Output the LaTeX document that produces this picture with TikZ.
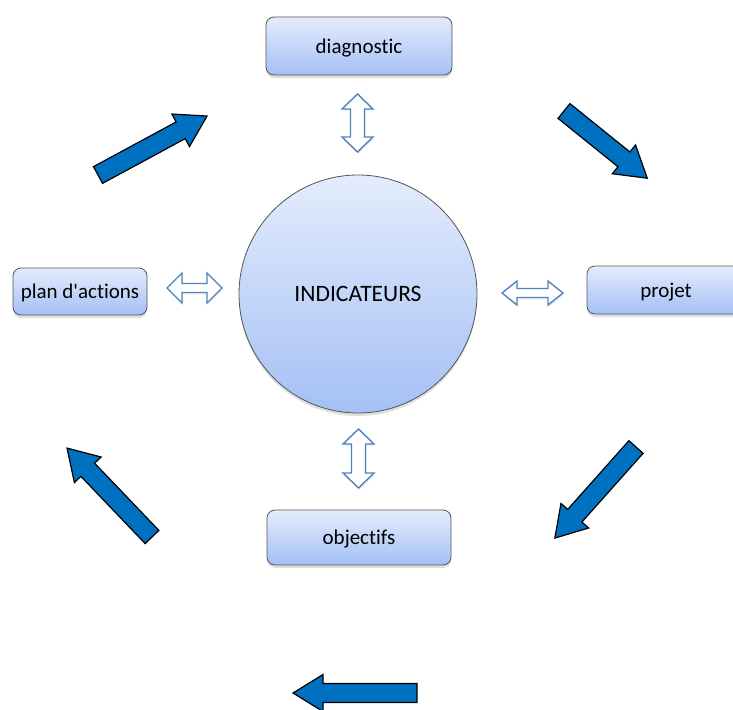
\documentclass[tikz,border=0pt]{standalone}
\usepackage{fontspec}
\newfontfamily\carl{Carlito}[Ligatures=NoCommon]
\usetikzlibrary{shadows}
\definecolor{gtop}{RGB}{228,236,252}
\definecolor{gbot}{RGB}{164,192,245}
\definecolor{bord}{RGB}{85,85,85}
\definecolor{arrblue}{RGB}{0,112,192}
\definecolor{outblue}{RGB}{79,129,189}
\begin{document}
\begin{tikzpicture}[x=1pt,y=-1pt,
  box/.style={draw=bord, line width=0.8pt, rounded corners=8pt,
    top color=gtop, bottom color=gbot,
    drop shadow={opacity=0.25, shadow xshift=0pt, shadow yshift=-3pt},
    font=\carl\fontsize{21}{25}\selectfont, inner sep=0pt,
    text height=14pt, text depth=0pt},
  hub/.style={circle, draw=bord, line width=0.8pt,
    top color=gtop, bottom color=gbot,
    drop shadow={opacity=0.25, shadow xshift=0pt, shadow yshift=-3pt},
    font=\carl\fontsize{23.5}{28}\selectfont, inner sep=0pt, minimum size=238pt},
  blockstyle/.style={fill=arrblue, draw=black, line width=1.2pt, line join=miter},
  dblstyle/.style={fill=white, draw=outblue, line width=1.4pt, line join=miter,
    drop shadow={opacity=0.12, shadow xshift=1pt, shadow yshift=-2pt}},
  pics/blockarr/.style={code={
    \draw[blockstyle] (0,-9.5) -- ({#1-30},-9.5) -- ({#1-30},-18.5) -- (#1,0)
      -- ({#1-30},18.5) -- ({#1-30},9.5) -- (0,9.5) -- cycle;}},
  pics/dblarr/.style args={#1/#2/#3}{code={
    \draw[dblstyle] ({-#1/2},0) -- ({-#1/2+15},-#3) -- ({-#1/2+15},-#2)
      -- ({#1/2-15},-#2) -- ({#1/2-15},-#3) -- ({#1/2},0) -- ({#1/2-15},#3)
      -- ({#1/2-15},#2) -- ({-#1/2+15},#2) -- ({-#1/2+15},#3) -- cycle;}}
]
\useasboundingbox (0,0) rectangle (733,709);
\clip (0,0) rectangle (733,709);

% central circle
\node[hub] (ind) at (358,294) {INDICATEURS};

% boxes
\node[box, minimum width=186pt, minimum height=58pt] (diag) at (359,46) {diagnostic};
\node[box, minimum width=134pt, minimum height=47pt] (plan) at (80,291.5) {plan d'actions};
\node[box, minimum width=158pt, minimum height=48pt] (proj) at (666,290) {projet};
\node[box, minimum width=184pt, minimum height=55pt] (obj) at (359,537.5) {objectifs};

% double arrows between hub and boxes
\pic (dtop) [rotate=90] at (357.5,123) {dblarr=58/7/15.5};
\pic (dbot) [rotate=90] at (358.5,458.5) {dblarr=59/7/15.5};
\pic (dleft) at (194.5,288) {dblarr=55/4.5/15};
\pic (dright) at (532.5,293) {dblarr=61/4.5/12};

% cycle block arrows
\pic (a1) [rotate=28.4] at (98,175) {blockarr=124};
\pic (a2) [rotate=-38.9] at (564,111) {blockarr=107};
\pic (a3) [rotate=-131.7] at (636,447) {blockarr=122};
\pic (a4) [rotate=133.7] at (152,537) {blockarr=123};
\pic (a5) [rotate=180] at (417,693) {blockarr=124};
\end{tikzpicture}
\end{document}
